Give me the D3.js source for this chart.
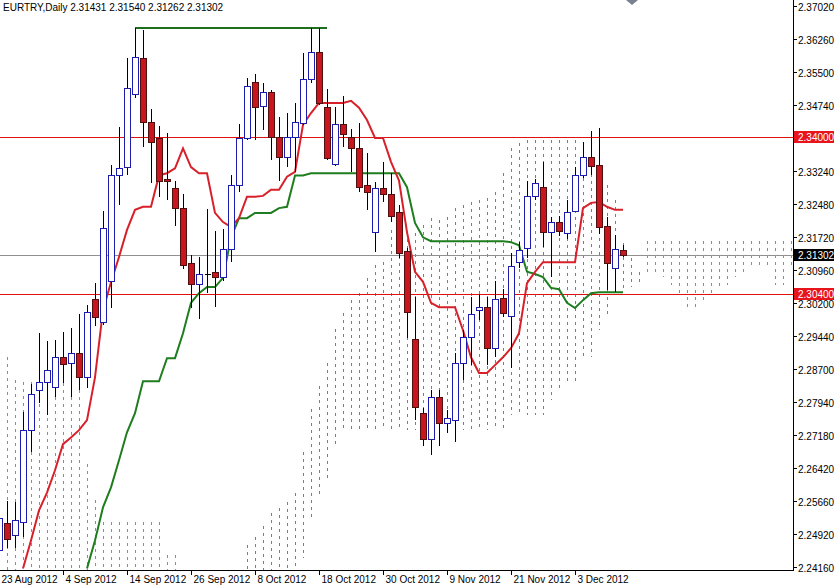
<!DOCTYPE html>
<html>
<head>
<meta charset="utf-8">
<script src="https://cdn.jsdelivr.net/npm/d3@7"></script>
<style>
body { margin: 0; background: #fff; }
text { font-family: "Liberation Sans", Arial, sans-serif; }
</style>
</head>
<body>
<div id="container"></div>
<script>
const W = 834, H = 586;
const PLOT_R = 793, PLOT_B = 570;

const title = "EURTRY,Daily  2.31431 2.31540 2.31262 2.31302";

// daily candles, index 0 = 23 Aug 2012
const opens = [2.2454,2.2516,2.2488,2.2518,2.2729,2.2820,2.2839,2.2829,2.2896,2.2884,2.2905,2.2852,2.3029,2.2976,2.3072,2.3313,2.3332,2.3499,2.3582,2.3435,
  2.3398,2.3304,2.3285,2.3239,2.3112,2.3063,2.3086,2.3091,2.3079,2.3144,2.3290,2.3398,2.3527,2.3472,2.3504,2.3401,2.3355,2.3401,2.3433,2.3533,
  2.3595,2.3470,2.3338,2.3431,2.3401,2.3376,2.3290,2.3183,2.3283,2.3271,2.3228,2.3140,2.2937,2.2768,2.2708,2.2804,2.2745,2.2752,2.2884,2.2942,
  2.3004,2.3011,2.2917,2.3032,2.2990,2.3114,2.3147,2.3266,2.3286,2.3183,2.3206,2.3181,2.3232,2.3315,2.3355,2.3336,2.3196,2.3100,2.31431];
const highs = [2.2557,2.2566,2.2564,2.2770,2.2834,2.2951,2.2933,2.2935,2.2953,2.2963,2.2995,2.3016,2.3066,2.3231,2.3336,2.3424,2.3582,2.3651,2.3646,2.3465,
  2.3426,2.3410,2.3301,2.3271,2.3130,2.3126,2.3236,2.3186,2.3191,2.3313,2.3431,2.3536,2.3545,2.3525,2.3509,2.3447,2.3456,2.3479,2.3593,2.3651,
  2.3651,2.3511,2.3470,2.3495,2.3420,2.3433,2.3365,2.3297,2.3343,2.3318,2.3245,2.3147,2.3034,2.2779,2.2820,2.2820,2.2775,2.2905,2.2958,2.3034,
  2.3041,2.3034,2.3072,2.3052,2.3135,2.3160,2.3301,2.3304,2.3343,2.3217,2.3219,2.3257,2.3332,2.3390,2.3415,2.3422,2.3217,2.3176,2.31540];
const lows = [2.2431,2.2458,2.2458,2.2484,2.2678,2.2791,2.2763,2.2804,2.2836,2.2804,2.2820,2.2825,2.2967,2.2970,2.3009,2.3245,2.3313,2.3490,2.3378,2.3296,
  2.3264,2.3257,2.3197,2.3098,2.3009,2.2984,2.3043,2.3011,2.3072,2.3114,2.3274,2.3394,2.3394,2.3417,2.3349,2.3301,2.3332,2.3321,2.3428,2.3524,
  2.3474,2.3349,2.3334,2.3378,2.3321,2.3276,2.3234,2.3137,2.3252,2.3207,2.3124,2.2940,2.2752,2.2692,2.2671,2.2692,2.2722,2.2701,2.2843,2.2878,
  2.2981,2.2878,2.2896,2.2988,2.2871,2.3100,2.3124,2.3257,2.3149,2.3079,2.3174,2.3167,2.3228,2.3308,2.3315,2.3178,2.3050,2.3045,2.31262];
const closes = [2.2527,2.2479,2.2523,2.2729,2.2811,2.2839,2.2868,2.2896,2.2880,2.2907,2.2850,2.2999,2.2988,2.3192,2.3313,2.3329,2.3513,2.3584,2.3435,2.3390,
  2.3301,2.3301,2.3239,2.3107,2.3063,2.3086,2.3088,2.3079,2.3144,2.3290,2.3398,2.3518,2.3470,2.3504,2.3401,2.3355,2.3401,2.3435,2.3533,2.3595,
  2.3479,2.3352,2.3431,2.3408,2.3376,2.3287,2.3276,2.3283,2.3271,2.3219,2.3135,2.2999,2.2782,2.2708,2.2804,2.2745,2.2757,2.2882,2.2942,2.2995,
  2.3011,2.2917,2.3029,2.2997,2.3105,2.3142,2.3266,2.3295,2.3183,2.3206,2.3185,2.3228,2.3313,2.3355,2.3334,2.3194,2.3112,2.3144,2.31302];

// Tenkan-sen from index 3, Kijun-sen from index 11
const tenkanStart = 3;
const tenkan = [2.2412,2.2476,2.2545,2.2586,2.2637,2.2697,2.2712,2.2729,2.2752,2.2850,2.3004,2.3068,2.3126,2.3188,2.3234,2.3241,2.3241,2.3313,2.3318,2.3329,
  2.3375,2.3332,2.3318,2.3318,2.3227,2.3206,2.3195,2.3215,2.3264,2.3264,2.3266,2.3280,2.3280,2.3310,2.3321,2.3429,2.3456,2.3479,2.3479,2.3479,
  2.3479,2.3484,2.3468,2.3440,2.3399,2.3399,2.3344,2.3301,2.3183,2.3092,2.3069,2.3021,2.3011,2.3011,2.3011,2.2958,2.2896,2.2860,2.2860,2.2878,
  2.2896,2.2917,2.2951,2.3066,2.3092,2.3114,2.3114,2.3114,2.3114,2.3114,2.3238,2.3250,2.3252,2.3241,2.3234,2.3234];
const kijunStart = 11;
const kijun = [2.2412,2.2476,2.2552,2.2598,2.2660,2.2724,2.2768,2.2841,2.2841,2.2841,2.2894,2.2894,2.2951,2.3021,2.3043,2.3057,2.3057,2.3078,2.3171,2.3215,
  2.3215,2.3227,2.3227,2.3227,2.3238,2.3241,2.3313,2.3313,2.3318,2.3318,2.3318,2.3318,2.3318,2.3318,2.3318,2.3318,2.3318,2.3318,2.3318,2.3318,
  2.3286,2.3204,2.3171,2.3162,2.3162,2.3162,2.3162,2.3162,2.3162,2.3162,2.3162,2.3162,2.3162,2.3160,2.3153,2.3092,2.3087,2.3080,2.3055,2.3052,
  2.3021,2.3009,2.3027,2.3043,2.3045,2.3045,2.3045,2.3045];

// cloud segments: start index, upper span, lower span
const cloudOrangeStart = 0;
const cloudOrangeTop = [2.2896,2.2896,2.2843,2.2839,2.2839,2.2836,2.2836,2.2836,2.2836,2.2836,2.2836,2.2652,2.2569,2.2518,2.2518,2.2518,2.2518,2.2518,2.2518,2.2518,2.2518,2.2442,2.2442];
const cloudOrangeBottom = cloudOrangeTop.map(() => 2.2300);
const cloudTealStart = 31;
const cloudTealTop = [2.2466,2.2484,2.2509,2.2539,2.2550,2.2564,2.2585,2.2678,2.2777,2.2830,2.2882,2.2960,2.2997,2.3027,2.3043,2.3078,2.3107,2.3114,2.3188,2.3176,
  2.3183,2.3181,2.3199,2.3215,2.3211,2.3218,2.3238,2.3245,2.3252,2.3257,2.3261,2.3275,2.3318,2.3375,2.3387,2.3394,2.3394,2.3394,2.3394,2.3394,
  2.3394,2.3394,2.3387,2.3348,2.3313,2.3291,2.3257,2.3158,2.3123,2.3091];
const cloudTealBottom = [2.2300,2.2300,2.2300,2.2300,2.2300,2.2300,2.2300,2.2436,2.2523,2.2573,2.2614,2.2690,2.2724,2.2729,2.2729,2.2729,2.2729,2.2729,2.2729,2.2729,
  2.2729,2.2729,2.2729,2.2729,2.2729,2.2729,2.2729,2.2729,2.2729,2.2729,2.2729,2.2729,2.2729,2.2763,2.2763,2.2763,2.2763,2.2763,2.2798,2.2820,
  2.2836,2.2836,2.2889,2.2896,2.2958,2.2993,2.3045,2.3050,2.3057,2.3066];
const cloudFutureStart = 81;
const cloudFutureTop = [2.3162,2.3162,2.3162,2.3162,2.3162,2.3162,2.3162,2.3162,2.3162,2.3162,2.3162,2.3162,2.3162,2.3162,2.3162,2.3162,2.3162,2.3162,2.3162];
const cloudFutureBottom = [2.3089,2.3089,2.3080,2.3062,2.3039,2.3009,2.3009,2.3020,2.3043,2.3050,2.3062,2.3080,2.3091,2.3103,2.3103,2.3103,2.3062,2.3062,2.3103];

const priceTicks = [2.37020,2.36260,2.35500,2.34740,2.33240,2.32480,2.31720,2.30960,2.30200,2.29440,2.28700,2.27940,2.27180,2.26420,2.25660,2.24920,2.24160];
const dateTicks = ["23 Aug 2012","4 Sep 2012","14 Sep 2012","26 Sep 2012","8 Oct 2012","18 Oct 2012","30 Oct 2012","9 Nov 2012","21 Nov 2012","3 Dec 2012"];
const levels = [2.34000, 2.30400];
const lastClose = 2.31302;

const x = d3.scaleLinear().domain([0, 99]).range([-1, 791]);
const y = d3.scaleLinear().domain([2.2416, 2.3702]).range([566.7, 5.7]);

const svg = d3.select("#container").append("svg").attr("width", W).attr("height", H);
svg.append("defs").append("clipPath").attr("id", "plot")
  .append("rect").attr("x", 0).attr("y", 0).attr("width", PLOT_R).attr("height", PLOT_B);
const plot = svg.append("g").attr("clip-path", "url(#plot)");

var drawCloud = function (start, tops, bottoms, color) {
  plot.append("g").attr("shape-rendering", "crispEdges").selectAll("line").data(tops).join("line")
    .attr("x1", (d, i) => Math.round(x(start + i)) + 0.5)
    .attr("x2", (d, i) => Math.round(x(start + i)) + 0.5)
    .attr("y1", d => Math.round(y(d)))
    .attr("y2", (d, i) => Math.round(y(bottoms[i])))
    .attr("stroke", color).attr("stroke-width", 1).attr("stroke-dasharray", "3,4");
};
drawCloud(cloudOrangeStart, cloudOrangeTop, cloudOrangeBottom, "#e8741e");
drawCloud(cloudTealStart, cloudTealTop, cloudTealBottom, "#2aa48a");
drawCloud(cloudFutureStart, cloudFutureTop, cloudFutureBottom, "#e8741e");

// horizontal levels
const guides = plot.append("g").attr("shape-rendering", "crispEdges");
levels.forEach(function (v) {
  guides.append("line").attr("x1", 0).attr("x2", PLOT_R).attr("y1", Math.round(y(v)) + 0.5).attr("y2", Math.round(y(v)) + 0.5)
    .attr("stroke", "#e01010").attr("stroke-width", 1);
});
guides.append("line").attr("x1", 0).attr("x2", PLOT_R).attr("y1", Math.round(y(lastClose)) + 0.5).attr("y2", Math.round(y(lastClose)) + 0.5)
  .attr("stroke", "#909090").attr("stroke-width", 1);

// top flat line from the high
plot.append("line").attr("x1", x(17)).attr("x2", x(41)).attr("y1", y(highs[17])).attr("y2", y(highs[17]))
  .attr("stroke", "#1e6e1e").attr("stroke-width", 2);

// Ichimoku lines
const line = d3.line().x(d => x(d[0])).y(d => y(d[1]));
plot.append("path").attr("d", line(kijun.map((v, i) => [kijunStart + i, v])))
  .attr("fill", "none").attr("stroke", "#1e7d1e").attr("stroke-width", 2);
plot.append("path").attr("d", line(tenkan.map((v, i) => [tenkanStart + i, v])))
  .attr("fill", "none").attr("stroke", "#d8202a").attr("stroke-width", 2);

// candles
const candles = plot.append("g").attr("shape-rendering", "crispEdges");
opens.forEach(function (o, i) {
  var cx = Math.round(x(i)) + 0.5;
  var c = closes[i];
  var up = c >= o;
  var top = Math.round(y(Math.max(o, c))), bot = Math.round(y(Math.min(o, c)));
  candles.append("line").attr("x1", cx).attr("x2", cx).attr("y1", y(highs[i])).attr("y2", y(lows[i]))
    .attr("stroke", "#000").attr("stroke-width", 1);
  if (bot - top < 1) {
    candles.append("line").attr("x1", cx - 3).attr("x2", cx + 3).attr("y1", top + 0.5).attr("y2", top + 0.5)
      .attr("stroke", "#000");
  } else {
    candles.append("rect").attr("x", cx - 3).attr("y", top + 0.5).attr("width", 6).attr("height", bot - top)
      .attr("fill", up ? "#fff" : "#c8161e").attr("stroke", up ? "#1c1cae" : "#501010").attr("stroke-width", 1);
  }
});

// frame
svg.append("line").attr("x1", PLOT_R + 0.5).attr("x2", PLOT_R + 0.5).attr("y1", 0).attr("y2", PLOT_B).attr("stroke", "#000");
svg.append("line").attr("x1", 0).attr("x2", PLOT_R + 1).attr("y1", PLOT_B + 0.5).attr("y2", PLOT_B + 0.5).attr("stroke", "#000");

// price axis
const yAxis = svg.append("g");
priceTicks.forEach(function (v) {
  var py = Math.round(y(v)) + 0.5;
  yAxis.append("line").attr("x1", PLOT_R).attr("x2", PLOT_R + 4).attr("y1", py).attr("y2", py).attr("stroke", "#000");
  yAxis.append("text").attr("x", PLOT_R + 5).attr("y", py + 4).attr("font-size", 10).attr("fill", "#000").text(v.toFixed(5));
});
var tag = function (v, bg) {
  var py = Math.round(y(v));
  yAxis.append("rect").attr("x", PLOT_R + 1).attr("y", py - 6).attr("width", W - PLOT_R).attr("height", 12).attr("fill", bg);
  yAxis.append("text").attr("x", PLOT_R + 5).attr("y", py + 4).attr("font-size", 10).attr("fill", "#fff").text(v.toFixed(5));
};
levels.forEach(v => tag(v, "#e8141c"));
tag(lastClose, "#000");

// date axis
const xAxis = svg.append("g");
dateTicks.forEach(function (t, k) {
  var px = Math.round(x(k * 8)) + 0.5;
  xAxis.append("line").attr("x1", px).attr("x2", px).attr("y1", PLOT_B).attr("y2", PLOT_B + 5).attr("stroke", "#000");
  xAxis.append("text").attr("x", px + 2).attr("y", PLOT_B + 13).attr("font-size", 10).attr("fill", "#000").text(t);
});

// chart shift marker
svg.append("path").attr("d", "M626,0 L638,0 L632,5 Z").attr("fill", "#7a8290");

svg.append("text").attr("x", 3).attr("y", 11).attr("font-size", 10).attr("fill", "#000").text(title);
</script>
</body>
</html>
